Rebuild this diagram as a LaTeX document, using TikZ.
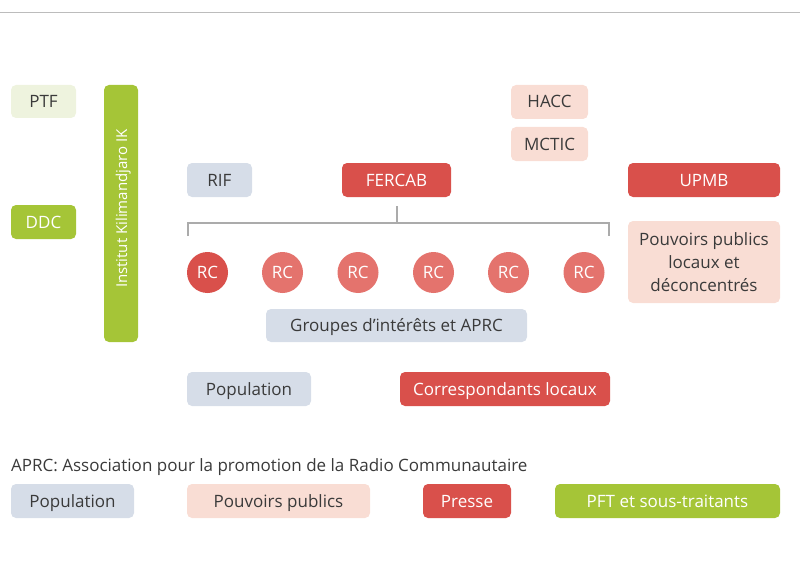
\documentclass[tikz,border=0pt]{standalone}
\usepackage{fontspec}
\setmainfont{Open Sans}
\definecolor{cgrey}{HTML}{D6DDE8}
\definecolor{cpink}{HTML}{F9DDD4}
\definecolor{cred}{HTML}{D9504B}
\definecolor{clred}{HTML}{E4736D}
\definecolor{cgreen}{HTML}{A5C537}
\definecolor{clgreen}{HTML}{EEF3DE}
\definecolor{ctext}{HTML}{3A3A3A}
\definecolor{cline}{HTML}{ABABAB}
\tikzset{
  box/.style={rectangle, rounded corners=5pt, inner sep=0pt, font=\fontsize{17}{23}\selectfont, align=center, text height=12pt, text depth=0pt},
  popbox/.style={box, fill=cgrey, text=ctext},
  pubbox/.style={box, fill=cpink, text=ctext},
  pressbox/.style={box, fill=cred, text=white},
  greenbox/.style={box, fill=cgreen, text=white},
  lgreenbox/.style={box, fill=clgreen, text=ctext},
  rc/.style={circle, inner sep=0pt, minimum size=41pt, fill=clred, text=white, font=\fontsize{17}{20}\selectfont, text height=12pt, text depth=0pt},
  bracket/.style={draw=cline, line width=2pt},
}
\newcommand{\bx}[7]{\node[#1, minimum width=#5-#3, minimum height=#6-#4] (#2) at ({(#3+#5)/2},{(#4+#6)/2}) {#7};}
\begin{document}
\begin{tikzpicture}[x=1pt,y=-1pt]
\useasboundingbox (0,0) rectangle (800,583);
\coordinate (tl) at (0,12.5);
\coordinate (tr) at (800,12.5);
\draw[cline!80, line width=1.5pt] (tl) -- (tr);
% left
\bx{lgreenbox}{ptf}{11}{85}{76}{118}{PTF}
\bx{greenbox}{ddc}{11}{205}{76}{239}{DDC}
\bx{greenbox}{ik}{104}{85}{138}{342}{}
\node[rotate=90, text=white, font=\fontsize{15}{17}\selectfont, inner sep=0pt, text height=11pt, text depth=0pt] (iktext) at (121.5,208.5) {Institut Kilimandjaro IK};
% top
\bx{pubbox}{hacc}{511}{85}{588}{119}{HACC}
\bx{pubbox}{mctic}{511}{127}{588}{161}{MCTIC}
\bx{popbox}{rif}{187}{163}{252}{197}{RIF}
\bx{pressbox}{fercab}{342}{163}{451}{197}{FERCAB}
\bx{pressbox}{upmb}{628}{163}{780}{197}{UPMB}
\bx{pubbox, text height=, text depth=}{ppl}{628}{221}{780}{303}{Pouvoirs publics\\locaux et\\déconcentrés}
% bracket
\coordinate (bm) at (396.5,222.5);
\coordinate (bl) at (188,236);
\coordinate (br) at (609,236);
\draw[bracket] ([yshift=-9pt]fercab.south) -- (bm);
\draw[bracket] (bl) -- (bl |- bm) -- (br |- bm) -- (br);
% RC
\node[rc, fill=cred] (rc1) at (207.5,272.5) {RC};
\node[rc] (rc2) at (282.5,272.5) {RC};
\node[rc] (rc3) at (358,272.5) {RC};
\node[rc] (rc4) at (433.5,272.5) {RC};
\node[rc] (rc5) at (508.5,272.5) {RC};
\node[rc] (rc6) at (584,272.5) {RC};
\bx{popbox}{grp}{266}{309}{527}{342}{Groupes d’intérêts et APRC}
\bx{popbox}{pop}{187}{372}{311}{406}{Population}
\bx{pressbox}{corr}{400}{372}{610}{406}{Correspondants locaux}
% legend
\node[anchor=west, text=ctext, font=\fontsize{17}{20}\selectfont, inner sep=0pt, text height=12pt, text depth=0pt] (aprc) at (11,465) {APRC: Association pour la promotion de la Radio Communautaire};
\bx{popbox}{lpop}{11}{484}{134}{518}{Population}
\bx{pubbox}{lpub}{187}{484}{370}{518}{Pouvoirs publics}
\bx{pressbox}{lpress}{423}{484}{511}{518}{Presse}
\bx{greenbox}{lpft}{555}{484}{780}{518}{PFT et sous-traitants}
\end{tikzpicture}
\end{document}
